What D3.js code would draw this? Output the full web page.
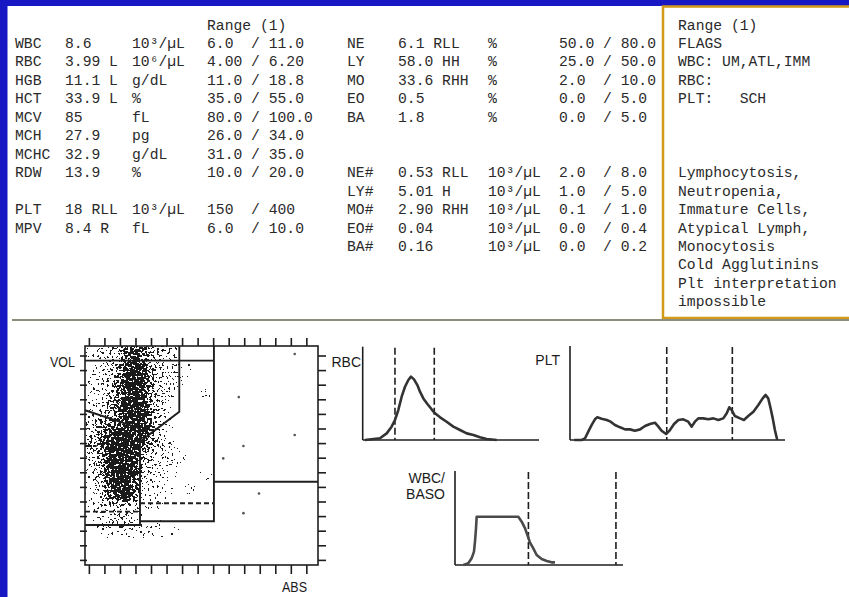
<!DOCTYPE html>
<html>
<head>
<meta charset="utf-8">
<script src="https://cdn.jsdelivr.net/npm/d3@7"></script>
<style>
  html, body { margin: 0; padding: 0; background: #fff; }
  svg { display: block; }
  .mono { font-family: "Liberation Mono", "Courier New", monospace; font-size: 14.7px; fill: #2a2a2a; white-space: pre; }
  .lab { font-family: "Liberation Sans Narrow", "Arial Narrow", "Liberation Sans", Arial, sans-serif; font-size: 14px; fill: #1a1a1a; }
</style>
</head>
<body>
<svg width="849" height="597"></svg>
<script>
// ---- report table (left block) ----
const LEFT_NAMES = ["WBC", "RBC", "HGB", "HCT", "MCV", "MCH", "MCHC", "RDW", "PLT", "MPV"];
const LEFT_ROWS = [0, 1, 2, 3, 4, 5, 6, 7, 9, 10];
const LEFT_VALUES = ["8.6", "3.99 L", "11.1 L", "33.9 L", "85", "27.9", "32.9", "13.9", "18 RLL", "8.4 R"];
const LEFT_UNITS = ["10³/µL", "10⁶/µL", "g/dL", "%", "fL", "pg", "g/dL", "%", "10³/µL", "fL"];
const LEFT_RANGES = ["6.0  / 11.0", "4.00 / 6.20", "11.0 / 18.8", "35.0 / 55.0", "80.0 / 100.0",
                     "26.0 / 34.0", "31.0 / 35.0", "10.0 / 20.0", "150  / 400", "6.0  / 10.0"];

// ---- differential (middle block) ----
const RIGHT_NAMES = ["NE", "LY", "MO", "EO", "BA", "NE#", "LY#", "MO#", "EO#", "BA#"];
const RIGHT_ROWS = [0, 1, 2, 3, 4, 7, 8, 9, 10, 11];
const RIGHT_VALUES = ["6.1", "58.0", "33.6", "0.5", "1.8", "0.53", "5.01", "2.90", "0.04", "0.16"];
const RIGHT_FLAGS = ["RLL", "HH", "RHH", "", "", "RLL", "H", "RHH", "", ""];
const RIGHT_UNITS = ["%", "%", "%", "%", "%", "10³/µL", "10³/µL", "10³/µL", "10³/µL", "10³/µL"];
const RIGHT_RANGES = ["50.0 / 80.0", "25.0 / 50.0", "2.0  / 10.0", "0.0  / 5.0", "0.0  / 5.0",
                      "2.0  / 8.0", "1.0  / 5.0", "0.1  / 1.0", "0.0  / 0.4", "0.0  / 0.2"];

// ---- flags box ----
const FLAG_LINES = ["Range (1)", "FLAGS", "WBC: UM,ATL,IMM", "RBC:", "PLT:   SCH", "", "", "",
                    "Lymphocytosis,", "Neutropenia,", "Immature Cells,", "Atypical Lymph,",
                    "Monocytosis", "Cold Agglutinins", "Plt interpretation", "impossible"];

// ---- VOL/ABS scatter: dot density per half-tick cell (0-9), rows from top (VOL 15) down ----
const SCATTER_DENSITY = [
  "12334786543200000",
  "12234675433200000",
  "01235787432201000",
  "02335898533200000",
  "12346898532210000",
  "12346998532100000",
  "11346998432000010",
  "12356998532000000",
  "22357999531000000",
  "33456899532000000",
  "34566788532000000",
  "34678888631000000",
  "35799987532000000",
  "45799986532100000",
  "34699985432100000",
  "24699984322110000",
  "24689973321100000",
  "23589973221100010",
  "23589962211000000",
  "13579962121001000",
  "12468852111000000",
  "12345532210000000",
  "01222221000000000",
  "01233320000000000",
  "01333221110000000",
  "00121111110100000"
];
// isolated events outside the dense area [ABS, VOL]
const SCATTER_OUTLIERS = [[13.5, 14.45], [9.9, 11.5], [13.5, 8.9], [10.2, 8.15], [8.9, 7.3], [11.2, 4.9], [10.2, 3.55]];
const GATES_SOLID = [
  [[0, 14.0], [8.3, 14.0]],
  [[8.3, 15], [8.3, 3.0], [3.54, 3.0]],
  [[6.07, 15], [6.07, 10.5], [3.54, 8.45]],
  [[0, 10.6], [3.54, 9.36], [3.54, 2.74], [0, 2.74]],
  [[8.3, 5.7], [15, 5.7]]
];
const GATES_DASHED = [
  [[0, 8.15], [0.75, 8.15]],
  [[0, 3.65], [3.54, 3.65]],
  [[3.54, 4.23], [8.3, 4.23]]
];
const SCATTER_TICKS_X = [0.25, 1.25, 2.25, 3.25, 4.25, 5.25, 6.25, 7.25, 8.25, 9.25, 10.25, 11.25, 12.25, 13.25, 14.25];
const SCATTER_TICKS_Y = [0.35, 1.35, 2.35, 3.35, 4.35, 5.35, 6.35, 7.35, 8.35, 9.35, 10.35, 11.35, 12.35, 13.35, 14.35];

// ---- histograms [channel 0-100, relative count 0-100] ----
const RBC_CURVE = [[1.3, 0], [9.8, 1.8], [13.6, 7.1], [16.4, 14.3], [18.3, 21.4], [20.2, 32.1], [22.1, 46.4],
  [24.0, 57.1], [25.9, 64.3], [27.4, 67.9], [29.1, 65.0], [31.0, 58.9], [32.5, 51.8], [34.4, 44.6],
  [36.7, 38.6], [39.1, 32.9], [41.0, 28.6], [43.9, 24.3], [47.6, 19.6], [51.4, 14.3], [55.2, 10.7],
  [59.0, 7.1], [62.8, 5.4], [66.5, 2.9], [70.3, 1.1], [76.0, 0]];
const RBC_CUTS = [18.3, 40.6];

const PLT_CURVE = [[2, 0], [5.4, 0], [7.0, 1.8], [8.5, 8.9], [10.1, 16.0], [11.6, 22.0], [12.7, 24.1],
  [14.7, 22.7], [17.1, 21.3], [18.9, 19.5], [20.9, 16.0], [23.3, 13.5], [25.6, 11.3], [27.9, 11.3],
  [30.2, 9.9], [32.6, 11.3], [34.9, 14.9], [37.2, 17.0], [39.5, 18.4], [41.1, 14.2], [42.6, 9.9],
  [44.7, 6.4], [46.5, 10.6], [48.4, 17.0], [50.4, 21.3], [52.7, 22.0], [55.0, 19.5], [56.6, 14.2],
  [58.1, 19.5], [59.7, 23.0], [62.0, 23.0], [64.3, 22.0], [66.7, 23.0], [69.0, 21.3], [71.3, 23.0],
  [72.9, 28.4], [74.1, 34.8], [75.2, 31.9], [76.7, 25.5], [79.1, 23.0], [80.9, 21.3], [82.9, 25.5],
  [85.3, 30.1], [87.6, 37.2], [89.6, 44.3], [91.0, 47.9], [92.2, 44.3], [93.3, 33.7], [94.3, 23.0],
  [95.3, 10.6], [96.4, 0]];
const PLT_CUTS = [45.0, 75.5];

const WBC_CURVE = [[5.0, 0], [7.9, 1.8], [9.9, 7.1], [11.3, 14.2], [11.9, 24.8], [12.5, 39.0], [12.9, 51.4],
  [20.8, 51.4], [30.8, 51.4], [37.7, 51.4], [39.7, 46.1], [41.7, 39.0], [43.1, 31.9], [44.6, 24.1],
  [46.6, 17.7], [48.6, 10.6], [51.6, 6.4], [54.6, 4.3], [57.5, 2.8], [59.5, 2.8]];
const WBC_CUTS = [43.7, 95.8];

const svg = d3.select("svg");

// frame of the slide
svg.append("rect").attr("x", 0).attr("y", 0).attr("width", 849).attr("height", 6).attr("fill", "#1717c3");
svg.append("rect").attr("x", 0).attr("y", 0).attr("width", 7.5).attr("height", 597).attr("fill", "#1717c3");

const rowY = d3.scaleLinear().domain([0, 1]).range([48, 66.45]); // text baselines

function column(data, rows, x) {
  svg.append("g").selectAll("text")
    .data(data)
    .join("text")
    .attr("class", "mono")
    .attr("x", x)
    .attr("y", (d, i) => rowY(rows[i]))
    .text(d => d);
}

svg.append("text").attr("class", "mono").attr("x", 207).attr("y", rowY(-1)).text("Range (1)");
column(LEFT_NAMES, LEFT_ROWS, 15);
column(LEFT_VALUES, LEFT_ROWS, 65);
column(LEFT_UNITS, LEFT_ROWS, 132);
column(LEFT_RANGES, LEFT_ROWS, 207);

column(RIGHT_NAMES, RIGHT_ROWS, 347);
column(RIGHT_VALUES.map((v, i) => RIGHT_FLAGS[i] ? v + " " + RIGHT_FLAGS[i] : v), RIGHT_ROWS, 398);
column(RIGHT_UNITS, RIGHT_ROWS, 488);
column(RIGHT_RANGES, RIGHT_ROWS, 559);

// flags box
svg.append("rect")
  .attr("x", 663).attr("y", 6.5).attr("width", 200).attr("height", 311.5)
  .attr("fill", "none").attr("stroke", "#d29a18").attr("stroke-width", 2.5);
column(FLAG_LINES, FLAG_LINES.map((d, i) => i - 1), 678);

// separator
svg.append("line").attr("x1", 12).attr("x2", 849).attr("y1", 320).attr("y2", 320)
  .attr("stroke", "#8b8e7c").attr("stroke-width", 2);

// ---------- scatter ----------
// density cells are blurred and thresholded against noise so they print as speckle
const defs = svg.append("defs");
const filt = defs.append("filter").attr("id", "speckle")
  .attr("filterUnits", "userSpaceOnUse")
  .attr("x", 85).attr("y", 346).attr("width", 233).attr("height", 219)
  .attr("color-interpolation-filters", "sRGB");
filt.append("feGaussianBlur").attr("in", "SourceGraphic").attr("stdDeviation", 2.0).attr("result", "dens");
filt.append("feTurbulence").attr("type", "fractalNoise").attr("baseFrequency", 0.42)
  .attr("numOctaves", 2).attr("seed", 3).attr("result", "noise");
filt.append("feColorMatrix").attr("in", "noise").attr("type", "matrix")
  .attr("values", "0 0 0 0 0  0 0 0 0 0  0 0 0 0 0  0 0 0 2.6 -0.75").attr("result", "n2");
filt.append("feComposite").attr("in", "dens").attr("in2", "n2").attr("operator", "arithmetic")
  .attr("k1", 0).attr("k2", 10).attr("k3", -10).attr("k4", 0.4).attr("result", "diff");
filt.append("feComponentTransfer").attr("in", "diff").attr("result", "mask")
  .append("feFuncA").attr("type", "discrete").attr("tableValues", "0 1");
filt.append("feFlood").attr("flood-color", "#1a1a1a").attr("result", "ink");
filt.append("feComposite").attr("in", "ink").attr("in2", "mask").attr("operator", "in");

const xS = d3.scaleLinear().domain([0, 15]).range([85, 318]);
const yS = d3.scaleLinear().domain([0, 15]).range([565, 346]);

const cells = [];
SCATTER_DENSITY.forEach((row, r) => {
  row.split("").forEach((ch, c) => {
    if (+ch > 0) cells.push({ u: c * 0.5, v: 15 - r * 0.5, d: +ch });
  });
});

const scatter = svg.append("g");
scatter.append("g").attr("filter", "url(#speckle)")
  .selectAll("rect")
  .data(cells)
  .join("rect")
  .attr("x", d => xS(d.u))
  .attr("y", d => yS(d.v))
  .attr("width", xS(0.5) - xS(0) + 0.2)
  .attr("height", yS(0) - yS(0.5) + 0.2)
  .attr("fill", "#000")
  .attr("fill-opacity", d => Math.min(1, Math.pow(d.d / 8.5, 1.3)));

scatter.append("g").selectAll("circle")
  .data(SCATTER_OUTLIERS)
  .join("circle")
  .attr("cx", d => xS(d[0]))
  .attr("cy", d => yS(d[1]))
  .attr("r", 1.3)
  .attr("fill", "#555");

const gateLine = d3.line().x(d => xS(d[0])).y(d => yS(d[1]));
scatter.append("g").selectAll("path")
  .data(GATES_SOLID)
  .join("path")
  .attr("d", gateLine)
  .attr("fill", "none")
  .attr("stroke", "#1e1e1e")
  .attr("stroke-width", 1.9);
scatter.append("g").selectAll("path")
  .data(GATES_DASHED)
  .join("path")
  .attr("d", gateLine)
  .attr("fill", "none")
  .attr("stroke", "#1e1e1e")
  .attr("stroke-width", 1.8)
  .attr("stroke-dasharray", "5,3");

scatter.append("rect")
  .attr("x", xS(0)).attr("y", yS(15))
  .attr("width", xS(15) - xS(0)).attr("height", yS(0) - yS(15))
  .attr("fill", "none").attr("stroke", "#1e1e1e").attr("stroke-width", 1.6);

function tickAxis(axis, tx, ty) {
  scatter.append("g")
    .attr("transform", `translate(${tx},${ty})`)
    .attr("color", "#1e1e1e")
    .call(axis.tickFormat("").tickSizeOuter(0))
    .call(g => g.select(".domain").remove())
    .call(g => g.selectAll("line").attr("stroke-width", 1.6));
}
tickAxis(d3.axisTop(xS).tickValues(SCATTER_TICKS_X).tickSizeInner(8), 0, yS(15));
tickAxis(d3.axisBottom(xS).tickValues(SCATTER_TICKS_X).tickSizeInner(9), 0, yS(0));
tickAxis(d3.axisLeft(yS).tickValues(SCATTER_TICKS_Y).tickSizeInner(7), xS(0) + 2, 0);
tickAxis(d3.axisRight(yS).tickValues(SCATTER_TICKS_Y).tickSizeInner(8), xS(15), 0);

svg.append("text").attr("class", "lab").attr("x", 50).attr("y", 367)
  .attr("textLength", 25).attr("lengthAdjust", "spacingAndGlyphs").text("VOL");
svg.append("text").attr("class", "lab").attr("x", 282).attr("y", 592)
  .attr("textLength", 25).attr("lengthAdjust", "spacingAndGlyphs").text("ABS");

// ---------- histograms ----------
function histogram(cfg) {
  const x = d3.scaleLinear().domain([0, 100]).range([cfg.left, cfg.right]);
  const y = d3.scaleLinear().domain([0, 100]).range([cfg.bottom, cfg.top]);
  const g = svg.append("g");
  g.append("line").attr("x1", x(0)).attr("x2", x(0)).attr("y1", y(100)).attr("y2", y(0))
    .attr("stroke", "#1e1e1e").attr("stroke-width", 1.6);
  g.append("line").attr("x1", x(0)).attr("x2", x(100)).attr("y1", y(0)).attr("y2", y(0))
    .attr("stroke", "#1e1e1e").attr("stroke-width", 1.6);
  g.selectAll(".cut")
    .data(cfg.cuts)
    .join("line")
    .attr("class", "cut")
    .attr("x1", d => x(d)).attr("x2", d => x(d))
    .attr("y1", y(99)).attr("y2", y(0))
    .attr("stroke", "#1e1e1e").attr("stroke-width", 1.6).attr("stroke-dasharray", "7,3");
  g.append("path")
    .datum(cfg.curve)
    .attr("d", d3.line().x(d => x(d[0])).y(d => y(d[1])))
    .attr("fill", "none")
    .attr("stroke", cfg.color)
    .attr("stroke-width", 2.6)
    .attr("stroke-linejoin", "round");
  cfg.label.forEach((t, i) => {
    g.append("text").attr("class", "lab")
      .attr("x", cfg.labelX).attr("y", cfg.labelY + i * 16)
      .attr("text-anchor", "end")
      .text(t);
  });
}

histogram({ left: 362.7, right: 539, top: 346.7, bottom: 440, curve: RBC_CURVE, cuts: RBC_CUTS,
  color: "#333", label: ["RBC"], labelX: 361, labelY: 367 });
histogram({ left: 570, right: 785, top: 346, bottom: 440, curve: PLT_CURVE, cuts: PLT_CUTS,
  color: "#333", label: ["PLT"], labelX: 560, labelY: 365 });
histogram({ left: 455, right: 623, top: 471, bottom: 565, curve: WBC_CURVE, cuts: WBC_CUTS,
  color: "#4a4a4a", label: ["WBC/", "BASO"], labelX: 445, labelY: 483 });
</script>
</body>
</html>
